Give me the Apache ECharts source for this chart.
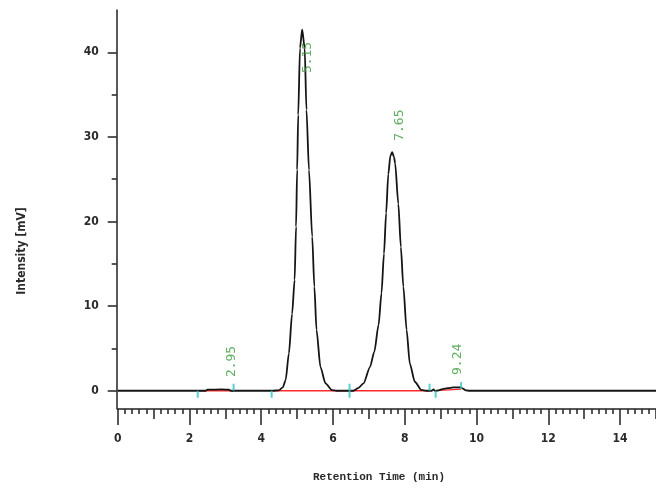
<!DOCTYPE html>
<html>
<head>
<meta charset="utf-8">
<script src="https://cdn.jsdelivr.net/npm/echarts@6/dist/echarts.min.js"></script>
<style>
html,body{margin:0;padding:0;background:#fff;}
#chart{width:656px;height:488px;}
</style>
</head>
<body>
<div id="chart"></div>
<script>
// ---- data ----
var times = [0, 2.2, 2.45, 2.5, 2.9, 3.1, 3.15, 4.3, 4.49, 4.6, 4.68, 4.77, 4.86, 4.93, 4.97, 5.0, 5.03, 5.08, 5.14, 5.21, 5.26, 5.33, 5.42, 5.48, 5.54, 5.65, 5.79, 5.97, 6.1, 6.57, 6.7, 6.85, 7.03, 7.15, 7.27, 7.35, 7.42, 7.48, 7.54, 7.6, 7.65, 7.7, 7.73, 7.82, 7.89, 7.96, 8.05, 8.14, 8.28, 8.46, 8.6, 8.75, 8.8, 8.85, 8.95, 9.05, 9.2, 9.35, 9.55, 9.62, 9.7, 9.8, 15];
var intensity = [0, 0, 0, 0.12, 0.15, 0.12, 0, 0, 0.05, 0.4, 1.26, 4.4, 9.1, 13.1, 19.4, 26.1, 32.6, 40.5, 42.7, 40.5, 33.2, 26.1, 18.2, 12.3, 7.2, 2.8, 0.87, 0.08, 0, 0, 0.3, 0.87, 2.8, 4.6, 7.8, 11.5, 16.2, 21.0, 25.6, 27.8, 28.2, 27.6, 26.9, 22.1, 17.0, 12.3, 7.2, 3.2, 1.06, 0.1, 0, 0, 0.15, -0.05, 0.05, 0.2, 0.3, 0.4, 0.4, 0.25, 0.05, 0, 0];
var peakTimes = [2.95, 5.15, 7.65, 9.24];
var peakHeights = [0.15, 42.7, 28.2, 0.4];
var baseStartX = [2.23, 4.29, 6.46, 8.86];
var baseStartY = [0, 0, 0, 0];
var baseEndX = [3.23, 6.46, 8.69, 9.57];
var baseEndY = [0, 0, 0, 0.2];
var eventX = [2.23, 3.23, 4.29, 6.46, 8.69, 8.86, 9.57];
var eventY = [0, 0, 0, 0, 0, 0, 0.2];
var eventKind = ['start', 'end', 'start', 'both', 'end', 'start', 'end'];
var yMajorTicks = [0, 10, 20, 30, 40];
var yMinorTicks = [5, 15, 25, 35];
var xTitle = 'Retention Time (min)';
var yTitle = 'Intensity [mV]';

// ---- build chart ----
var chart = echarts.init(document.getElementById('chart'), null, {renderer: 'canvas'});
var Y_MIN = -2.16, Y_MAX = 45, X_MIN = 0, X_MAX = 15;
var tickFont = "'Liberation Sans Narrow', 'DejaVu Sans Condensed', sans-serif";
var axisColor = '#222';

var signal = times.map(function (t, i) { return [t, intensity[i]]; });
var baseline = [];
baseStartX.forEach(function (x, i) {
  baseline.push([x, baseStartY[i]]);
  baseline.push([baseEndX[i], baseEndY[i]]);
  baseline.push(['-', '-']);
});
var events = eventX.map(function (x, i) {
  var k = eventKind[i];
  return {
    value: [x, eventY[i]],
    symbolSize: k === 'both' ? [2, 14] : [2, 7],
    symbolOffset: k === 'start' ? [0, 3.5] : (k === 'end' ? [0, -3.5] : [0, 0])
  };
});
// screen shifts (dx, dy) of each label centre from its peak apex
var labelShift = [[8, -28], [5, 28], [7, -27], [8, -28]];
var peakLabels = peakTimes.map(function (t, i) {
  var s = labelShift[i];
  return {
    value: [t, peakHeights[i]],
    label: {offset: [-s[1], s[0]]}
  };
});

var option = {
  animation: false,
  backgroundColor: '#fff',
  grid: {left: 117.7, right: -3, top: 10, bottom: 79, containLabel: false},
  xAxis: [
    {
      type: 'value', position: 'bottom', min: X_MIN, max: X_MAX, interval: 1,
      axisLine: {show: true, onZero: false, lineStyle: {color: axisColor, width: 1.5}},
      axisTick: {show: true, length: 10, lineStyle: {color: axisColor, width: 1.5}},
      minorTick: {show: true, splitNumber: 5, length: 5, lineStyle: {color: axisColor, width: 1.5}},
      axisLabel: {show: false},
      splitLine: {show: false}
    },
    {
      type: 'value', position: 'bottom', min: X_MIN, max: X_MAX, interval: 2,
      axisLine: {show: false, onZero: false},
      axisTick: {show: true, length: 16, lineStyle: {color: axisColor, width: 1.5}},
      axisLabel: {show: true, margin: 24, color: '#2a2a2a', fontSize: 12, fontWeight: 'bold', fontFamily: tickFont, showMaxLabel: false,
        formatter: function (v) { return v % 2 === 0 && v <= 14 ? String(v) : ''; }},
      splitLine: {show: false}
    }
  ],
  yAxis: [
    {
      type: 'value', min: Y_MIN, max: Y_MAX, offset: 1,
      axisLine: {show: true, onZero: false, lineStyle: {color: axisColor, width: 1.5}},
      axisTick: {show: true, length: 9, customValues: yMajorTicks, lineStyle: {color: axisColor, width: 1.5}},
      axisLabel: {show: true, customValues: yMajorTicks, margin: 18, color: '#2a2a2a', fontSize: 12, fontWeight: 'bold', fontFamily: tickFont},
      splitLine: {show: false}
    },
    {
      type: 'value', min: Y_MIN, max: Y_MAX, offset: 1, position: 'left',
      axisLine: {show: false, onZero: false},
      axisTick: {show: true, length: 5, customValues: yMinorTicks, lineStyle: {color: axisColor, width: 1.5}},
      axisLabel: {show: false},
      splitLine: {show: false}
    }
  ],
  graphic: [
    {
      type: 'text', x: 379, y: 477,
      style: {text: xTitle, fill: '#2a2a2a', font: "bold 11px 'Liberation Mono', 'DejaVu Sans Mono', monospace", textAlign: 'center', textVerticalAlign: 'middle'}
    },
    {
      type: 'text', x: 22, y: 251, rotation: Math.PI / 2,
      style: {text: yTitle, fill: '#2a2a2a', font: "bold 12px 'Liberation Sans Narrow', 'DejaVu Sans Condensed', sans-serif", textAlign: 'center', textVerticalAlign: 'middle'}
    }
  ],
  series: [
    {
      type: 'line', name: 'baseline', data: baseline, showSymbol: false, connectNulls: false,
      lineStyle: {color: '#ff2a2a', width: 1.3}, z: 3, silent: true
    },
    {
      type: 'line', name: 'signal', data: signal, showSymbol: false,
      smooth: 0.25, smoothMonotone: 'x',
      lineStyle: {color: '#151515', width: 1.8}, z: 4, silent: true
    },
    {
      type: 'scatter', name: 'events', data: events, symbol: 'rect',
      itemStyle: {color: '#2ec4c4'}, z: 5, silent: true
    },
    {
      type: 'scatter', name: 'peaks', data: peakLabels, symbolSize: 0, z: 6, silent: true,
      label: {
        show: true, position: 'inside', rotate: 90,
        formatter: function (p) { return p.value[0].toFixed(2); },
        color: '#3a9a3a', fontSize: 13, fontFamily: "'DejaVu Sans Mono', 'Liberation Mono', monospace",
        align: 'center', verticalAlign: 'middle'
      }
    }
  ]
};
chart.setOption(option);
</script>
</body>
</html>
